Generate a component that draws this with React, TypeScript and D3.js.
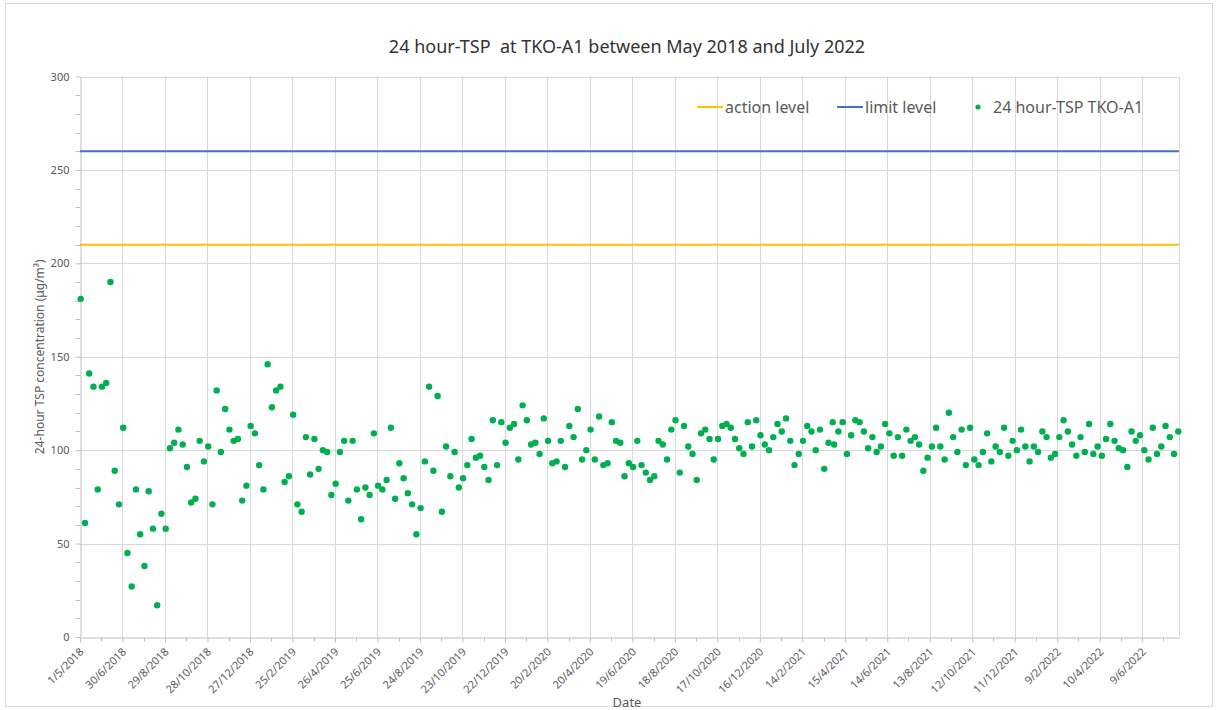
import React, { useEffect, useRef } from "react";
import * as d3 from "d3";

// sampling window shown on the date axis
const START_DATE = "2018-05-01";
const END_DATE = "2022-07-31";

// days after START_DATE on which each 24-hour TSP sample was taken
const sampleDays = [
  1, 7, 13, 19, 25, 31, 37, 43, 49, 55,
  61, 67, 73, 79, 85, 91, 97, 103, 109, 115,
  121, 127, 133, 139, 145, 151, 157, 163, 169, 175,
  181, 187, 193, 199, 205, 211, 217, 223, 229, 235,
  241, 247, 253, 259, 265, 271, 277, 283, 289, 295,
  301, 307, 313, 319, 325, 331, 337, 343, 349, 355,
  361, 367, 373, 379, 385, 391, 397, 403, 409, 415,
  421, 427, 433, 439, 445, 451, 457, 463, 469, 475,
  481, 487, 493, 499, 505, 511, 517, 523, 529, 535,
  541, 547, 553, 559, 565, 571, 577, 583, 589, 595,
  601, 607, 613, 619, 625, 631, 637, 643, 649, 655,
  661, 667, 673, 679, 685, 691, 697, 703, 709, 715,
  721, 727, 733, 739, 745, 751, 757, 763, 769, 775,
  781, 787, 793, 799, 805, 811, 817, 823, 829, 835,
  841, 847, 853, 859, 865, 871, 877, 883, 889, 895,
  901, 907, 913, 919, 925, 931, 937, 943, 949, 955,
  961, 967, 973, 979, 985, 991, 997, 1003, 1009, 1015,
  1021, 1027, 1033, 1039, 1045, 1051, 1057, 1063, 1065,
  1071, 1077, 1083, 1089, 1095, 1101, 1107, 1113, 1119, 1125,
  1131, 1137, 1143, 1149, 1155, 1161, 1167, 1173, 1179, 1185,
  1191, 1197, 1203, 1209, 1215, 1221, 1227, 1233, 1239, 1245,
  1251, 1257, 1263, 1269, 1275, 1281, 1287, 1293, 1299, 1305,
  1311, 1317, 1323, 1329, 1335, 1341, 1347, 1353, 1359, 1365,
  1371, 1377, 1383, 1389, 1395, 1401, 1407, 1413, 1419, 1425,
  1431, 1437, 1443, 1449, 1455, 1461, 1467, 1473, 1479, 1485,
  1491, 1497, 1503, 1509, 1515, 1521, 1527, 1533, 1539, 1545,
  1551,
];

// 24-hour TSP at TKO-A1 (ug/m3)
const tspValues = [
  181, 61, 141, 134, 79, 134, 136, 190, 89, 71,
  112, 45, 27, 79, 55, 38, 78, 58, 17, 66,
  58, 101, 104, 111, 103, 91, 72, 74, 105, 94,
  102, 71, 132, 99, 122, 111, 105, 106, 73, 81,
  113, 109, 92, 79, 146, 123, 132, 134, 83, 86,
  119, 71, 67, 107, 87, 106, 90, 100, 99, 76,
  82, 99, 105, 73, 105, 79, 63, 80, 76, 109,
  81, 79, 84, 112, 74, 93, 85, 77, 71, 55,
  69, 94, 134, 89, 129, 67, 102, 86, 99, 80,
  85, 92, 106, 96, 97, 91, 84, 116, 92, 115,
  104, 112, 114, 95, 124, 116, 103, 104, 98, 117,
  105, 93, 94, 105, 91, 113, 107, 122, 95, 100,
  111, 95, 118, 92, 93, 115, 105, 104, 86, 93,
  91, 105, 92, 88, 84, 86, 105, 103, 95, 111,
  116, 88, 113, 102, 98, 84, 109, 111, 106, 95,
  106, 113, 114, 112, 106, 101, 98, 115, 102, 116,
  108, 103, 100, 107, 114, 110, 117, 105, 92, 98,
  105, 113, 110, 100, 111, 90, 104, 115, 103,
  110, 115, 98, 108, 116, 115, 110, 101, 107, 99,
  102, 114, 109, 97, 107, 97, 111, 105, 107, 103,
  89, 96, 102, 112, 102, 95, 120, 107, 99, 111,
  92, 112, 95, 92, 99, 109, 94, 102, 99, 112,
  97, 105, 100, 111, 102, 94, 102, 99, 110, 107,
  96, 98, 107, 116, 110, 103, 97, 107, 99, 114,
  98, 102, 97, 106, 114, 105, 101, 100, 91, 110,
  105, 108, 100, 95, 112, 98, 102, 113, 107, 98,
  110,
];

const actionLevel = 210;
const limitLevel = 260;

const dateTickLabels = [
  "1/5/2018", "30/6/2018", "29/8/2018", "28/10/2018", "27/12/2018",
  "25/2/2019", "26/4/2019", "25/6/2019", "24/8/2019", "23/10/2019",
  "22/12/2019", "20/2/2020", "20/4/2020", "19/6/2020", "18/8/2020",
  "17/10/2020", "16/12/2020", "14/2/2021", "15/4/2021", "14/6/2021",
  "13/8/2021", "12/10/2021", "11/12/2021", "9/2/2022", "10/4/2022",
  "9/6/2022",
];
const yTickValues = [0, 50, 100, 150, 200, 250, 300];
const legendLabels = ["action level", "limit level", "24 hour-TSP TKO-A1"];

const FONT = "'Noto Sans', 'Open Sans', sans-serif";
const TEXT = "#595959";
const GRID = "#d9d9d9";
const AXIS = "#bfbfbf";
const ORANGE = "#ffc000";
const BLUE = "#4472c4";
const GREEN = "#00b050";

const App = () => {
  const svgRef = useRef<SVGSVGElement>(null);

  useEffect(() => {
    const width = 1218;
    const height = 710;
    const plot = { left: 80, right: 1179, top: 76.5, bottom: 637 };

    const parseIso = d3.utcParse("%Y-%m-%d");
    const parseLabel = d3.utcParse("%d/%m/%Y");
    const start = parseIso(START_DATE) as Date;
    const end = parseIso(END_DATE) as Date;
    const points = sampleDays.map((d, i) => ({ date: d3.utcDay.offset(start, d), value: tspValues[i] }));
    const tickDates = dateTickLabels.map((l) => parseLabel(l) as Date);

    const x = d3.scaleUtc().domain([start, end]).range([plot.left, plot.right]);
    const y = d3.scaleLinear().domain([0, 300]).range([plot.bottom, plot.top]);

    const svg = d3.select(svgRef.current);
    svg.selectAll("*").remove();
    svg.attr("width", width).attr("height", height).attr("font-family", FONT);

    // chart area border
    svg.append("rect")
      .attr("x", 5.5).attr("y", 3.5)
      .attr("width", 1207).attr("height", 703)
      .attr("fill", "#ffffff").attr("stroke", GRID);

    // gridlines
    const grid = svg.append("g").attr("stroke", GRID).attr("stroke-width", 1);
    grid.selectAll("line.h")
      .data(yTickValues.filter((v) => v > 0))
      .join("line")
      .attr("x1", plot.left).attr("x2", plot.right)
      .attr("y1", (d) => Math.round(y(d)) + 0.5)
      .attr("y2", (d) => Math.round(y(d)) + 0.5);
    grid.selectAll("line.v")
      .data([...tickDates.slice(1), end])
      .join("line")
      .attr("x1", (d) => Math.round(x(d)) + 0.5)
      .attr("x2", (d) => Math.round(x(d)) + 0.5)
      .attr("y1", plot.top).attr("y2", plot.bottom);

    // y axis
    const yAxis = svg.append("g")
      .attr("transform", `translate(${plot.left + 0.5},0)`)
      .call(d3.axisLeft(y).tickValues(yTickValues).tickSize(5).tickPadding(6).tickSizeOuter(0));
    yAxis.attr("font-family", FONT).attr("font-size", 11);
    yAxis.select(".domain").attr("stroke", AXIS);
    yAxis.selectAll(".tick line").attr("stroke", AXIS);
    yAxis.selectAll(".tick text").attr("fill", TEXT);
    const yMinor = d3.range(10, 300, 10).filter((v) => v % 50 !== 0);
    yAxis.selectAll("line.minor")
      .data(yMinor)
      .join("line")
      .attr("x1", -5).attr("x2", 0)
      .attr("y1", (d) => Math.round(y(d)) + 0.5)
      .attr("y2", (d) => Math.round(y(d)) + 0.5)
      .attr("stroke", AXIS);

    // x axis
    const xAxis = svg.append("g")
      .attr("transform", `translate(0,${plot.bottom + 0.5})`)
      .call(
        d3.axisBottom(x)
          .tickValues(tickDates)
          .tickFormat((_d, i) => dateTickLabels[i])
          .tickSize(5)
          .tickSizeOuter(0)
      );
    xAxis.attr("font-family", FONT).attr("font-size", 11);
    xAxis.select(".domain").attr("stroke", AXIS);
    xAxis.selectAll(".tick line").attr("stroke", AXIS);
    xAxis.selectAll(".tick text")
      .attr("fill", TEXT)
      .attr("x", 0).attr("y", 0).attr("dy", 0)
      .attr("text-anchor", "end")
      .attr("transform", "translate(4,15) rotate(-45)");
    xAxis.selectAll("line.minor")
      .data(tickDates.map((d) => d3.utcDay.offset(d, 30)).filter((d) => d < end))
      .join("line")
      .attr("x1", (d) => Math.round(x(d)) + 0.5)
      .attr("x2", (d) => Math.round(x(d)) + 0.5)
      .attr("y1", 0).attr("y2", 4)
      .attr("stroke", AXIS);

    // action and limit levels
    svg.append("line")
      .attr("x1", plot.left).attr("x2", plot.right)
      .attr("y1", y(actionLevel)).attr("y2", y(actionLevel))
      .attr("stroke", ORANGE).attr("stroke-width", 2);
    svg.append("line")
      .attr("x1", plot.left).attr("x2", plot.right)
      .attr("y1", y(limitLevel)).attr("y2", y(limitLevel))
      .attr("stroke", BLUE).attr("stroke-width", 2);

    // samples
    svg.append("g")
      .selectAll("circle")
      .data(points)
      .join("circle")
      .attr("cx", (d) => x(d.date))
      .attr("cy", (d) => y(d.value))
      .attr("r", 3.2)
      .attr("fill", GREEN);

    // legend
    const legend = svg.append("g").attr("font-size", 16).attr("fill", TEXT);
    const legendY = 107;
    legend.append("line").attr("x1", 697).attr("x2", 723).attr("y1", legendY).attr("y2", legendY)
      .attr("stroke", ORANGE).attr("stroke-width", 2);
    legend.append("text").attr("x", 725).attr("y", legendY).attr("dy", "0.35em").text(legendLabels[0]);
    legend.append("line").attr("x1", 837).attr("x2", 863).attr("y1", legendY).attr("y2", legendY)
      .attr("stroke", BLUE).attr("stroke-width", 2);
    legend.append("text").attr("x", 865).attr("y", legendY).attr("dy", "0.35em").text(legendLabels[1]);
    legend.append("circle").attr("cx", 978).attr("cy", legendY).attr("r", 2.6).attr("fill", GREEN);
    legend.append("text").attr("x", 993).attr("y", legendY).attr("dy", "0.35em").text(legendLabels[2]);

    // titles
    svg.append("text")
      .attr("x", 627).attr("y", 53)
      .attr("text-anchor", "middle")
      .attr("font-size", 18)
      .attr("fill", "#333333")
      .style("white-space", "pre")
      .text("24 hour-TSP  at TKO-A1 between May 2018 and July 2022");
    svg.append("text")
      .attr("transform", `translate(44,${(plot.top + plot.bottom) / 2}) rotate(-90)`)
      .attr("text-anchor", "middle")
      .attr("font-size", 12)
      .attr("fill", TEXT)
      .text("24-hour TSP concentration (\u03bcg/m\u00b3)");
    svg.append("text")
      .attr("x", 627).attr("y", 707)
      .attr("text-anchor", "middle")
      .attr("font-size", 13)
      .attr("fill", TEXT)
      .text("Date");
  }, []);

  return <svg ref={svgRef} style={{ position: "absolute", left: 0, top: 0 }}></svg>;
};

export default App;
